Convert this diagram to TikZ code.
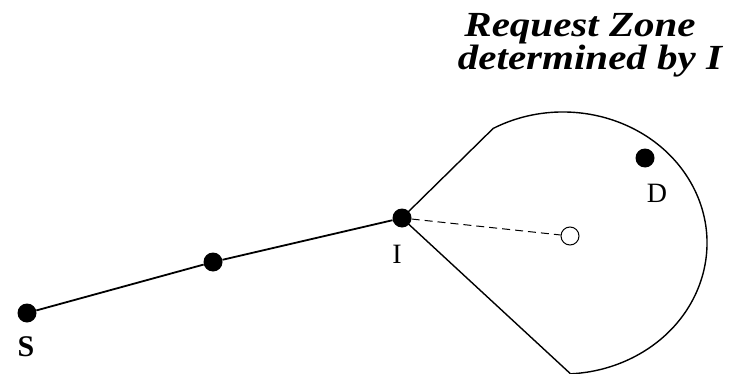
\documentclass[tikz,border=0pt]{standalone}
\usepackage{fontspec}
\usepackage{graphicx}
\setmainfont{Liberation Serif}
\usetikzlibrary{calc}
\newcommand{\squash}[1]{\scalebox{1}[0.86]{#1}}
\begin{document}
\begin{tikzpicture}[x=1pt,y=1pt,
  dot/.style={circle,fill=black,inner sep=0pt,minimum size=19pt},
  hollowdot/.style={circle,draw=black,fill=white,line width=1pt,inner sep=0pt,minimum size=18pt},
  lbl/.style={inner sep=0pt,font=\fontsize{28}{30}\selectfont},
  title/.style={inner sep=0pt,anchor=base,font=\fontsize{41}{43}\selectfont\bfseries\itshape},
  route/.style={line width=1.8pt},
  zone/.style={line width=1.4pt}]
\useasboundingbox (0,0) rectangle (736,373);
% title
\node[title] (t1) at (580,336) {\squash{Request Zone}};
\node[title] (t2) at (590,303) {\squash{determined by I}};
% request zone
\coordinate (zc) at (563,130);
\coordinate (ztop) at ($(zc)+(119:144 and 131)$);
\draw[zone] (ztop) arc[start angle=119,end angle=-87,x radius=144,y radius=131] coordinate (zbot);
% nodes
\node[dot] (S) at (27,60) {};
\node[dot] (M) at (213,111) {};
\node[dot] (I) at (402,155) {};
\node[dot] (D) at (645,215) {};
\node[hollowdot] (H) at (570,137) {};
% connectors
\draw[route] (S) -- (M) -- (I);
\draw[zone] (I.center) -- (ztop);
\draw[zone] (I.center) -- (zbot);
\draw[line width=1pt,dash pattern=on 8pt off 5pt] (I) -- (H);
% labels
\node[lbl,font=\fontsize{30}{32}\selectfont\bfseries] (Sl) at (26,26) {S};
\node[lbl] (Il) at (397,119) {I};
\node[lbl] (Dl) at (657,180) {D};
\end{tikzpicture}
\end{document}
